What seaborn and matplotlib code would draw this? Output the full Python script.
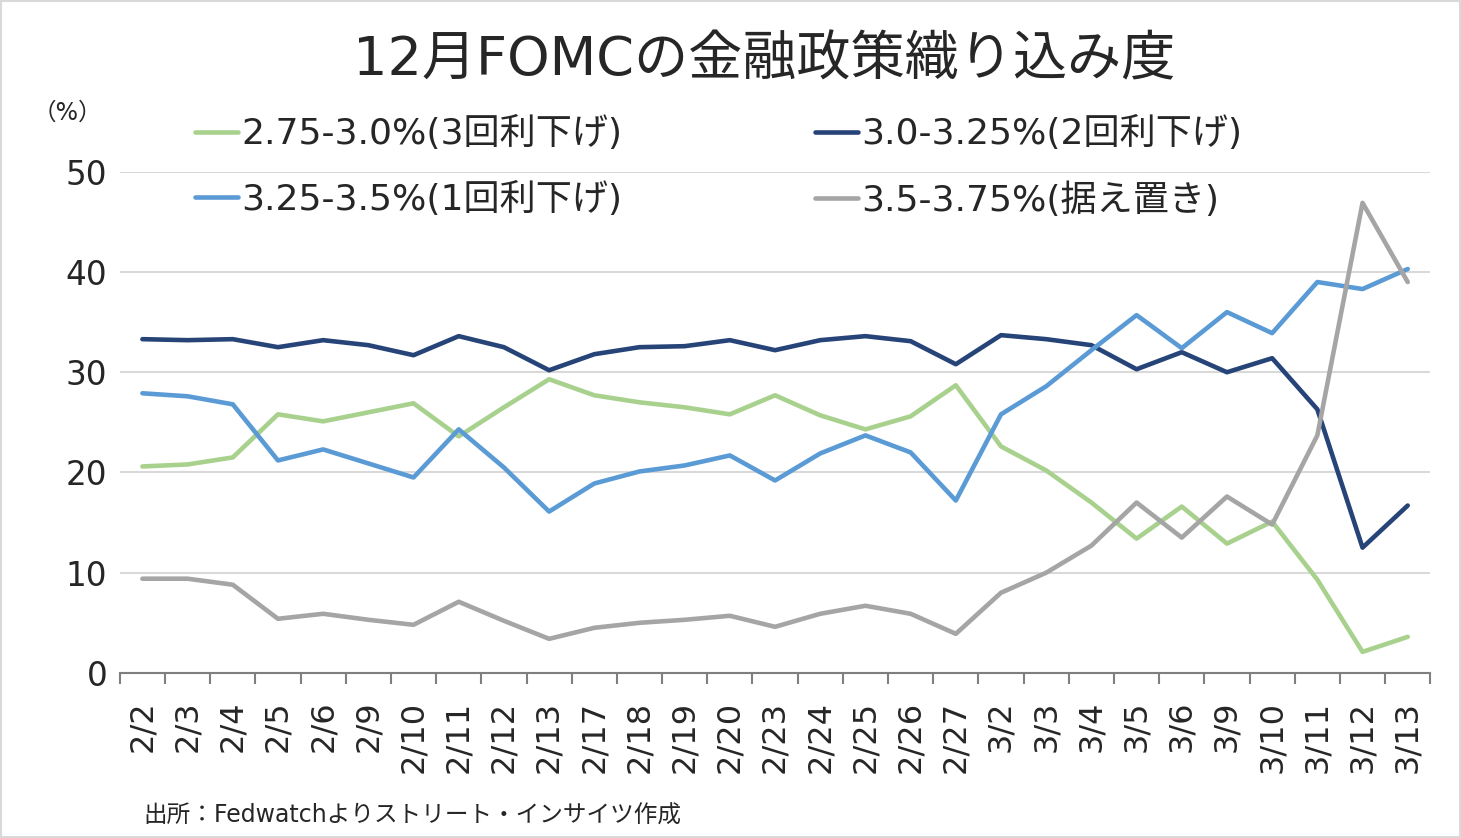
import numpy as np
import pandas as pd
import matplotlib
matplotlib.use("Agg")
import matplotlib.pyplot as plt
import seaborn as sns

dates = ["2/2", "2/3", "2/4", "2/5", "2/6", "2/9", "2/10", "2/11", "2/12", "2/13",
         "2/17", "2/18", "2/19", "2/20", "2/23", "2/24", "2/25", "2/26", "2/27",
         "3/2", "3/3", "3/4", "3/5", "3/6", "3/9", "3/10", "3/11", "3/12", "3/13"]

cut3 = [20.6, 20.8, 21.5, 25.8, 25.1, 26.0, 26.9, 23.6, 26.5, 29.3,
        27.7, 27.0, 26.5, 25.8, 27.7, 25.7, 24.3, 25.6, 28.7,
        22.6, 20.2, 17.0, 13.4, 16.6, 12.9, 15.1, 9.3, 2.1, 3.6]
cut2 = [33.3, 33.2, 33.3, 32.5, 33.2, 32.7, 31.7, 33.6, 32.5, 30.2,
        31.8, 32.5, 32.6, 33.2, 32.2, 33.2, 33.6, 33.1, 30.8,
        33.7, 33.3, 32.7, 30.3, 32.0, 30.0, 31.4, 26.3, 12.5, 16.7]
cut1 = [27.9, 27.6, 26.8, 21.2, 22.3, 20.9, 19.5, 24.3, 20.5, 16.1,
        18.9, 20.1, 20.7, 21.7, 19.2, 21.9, 23.7, 22.0, 17.2,
        25.8, 28.6, 32.2, 35.7, 32.4, 36.0, 33.9, 39.0, 38.3, 40.3]
hold = [9.4, 9.4, 8.8, 5.4, 5.9, 5.3, 4.8, 7.1, 5.2, 3.4,
        4.5, 5.0, 5.3, 5.7, 4.6, 5.9, 6.7, 5.9, 3.9,
        8.0, 10.0, 12.7, 17.0, 13.5, 17.6, 14.8, 23.7, 46.9, 39.0]

names = ["2.75-3.0%(3回利下げ)", "3.0-3.25%(2回利下げ)",
         "3.25-3.5%(1回利下げ)", "3.5-3.75%(据え置き)"]
colors = ["#A9D18E", "#264478", "#5B9BD5", "#A5A5A5"]

pos = np.arange(len(dates))
df = pd.concat([pd.DataFrame({"pos": pos, "val": v, "series": n})
                for n, v in zip(names, [cut3, cut2, cut1, hold])])

sns.set_style("white")
plt.rcParams["font.family"] = ["DejaVu Sans", "Noto Sans CJK JP"]

fig = plt.figure(figsize=(14.61, 8.38), dpi=100)
ax = fig.add_axes([0.082, 0.197, 0.897, 0.598])

sns.lineplot(data=df, x="pos", y="val", hue="series", hue_order=names,
             palette=colors, linewidth=3.3, ax=ax, legend=False)

ax.set_xlim(-0.5, len(dates) - 0.5)
ax.set_ylim(0, 50)
ax.set_yticks([0, 10, 20, 30, 40, 50])
ax.tick_params(axis="y", labelsize=23.5, length=0, pad=9)
ax.set_xticks(pos)
ax.set_xticklabels(dates, rotation=90, fontsize=23)
ax.set_xticks(np.arange(-0.5, len(dates)), minor=True)
ax.tick_params(axis="x", which="major", length=0, pad=20)
ax.tick_params(axis="x", which="minor", length=8, width=1.5, color="#7f7f7f",
               direction="out", bottom=True)
ax.set_xlabel("")
ax.set_ylabel("")
ax.grid(axis="y", color="#d9d9d9", linewidth=1.5)
ax.set_axisbelow(True)
for s in ["left", "right", "top"]:
    ax.spines[s].set_visible(False)
ax.spines["bottom"].set_color("#7f7f7f")
ax.spines["bottom"].set_linewidth(1.5)

# legend: green, light blue in col 1; navy, gray in col 2
handles = [plt.Line2D([], [], color=c, linewidth=3.3) for c in colors]
order = [0, 2, 1, 3]
fig.legend([handles[i] for i in order], [names[i] for i in order],
           ncol=2, loc="upper left", bbox_to_anchor=(0.111, 0.9),
           frameon=False, fontsize=26, handlelength=1.2, handletextpad=0.08,
           columnspacing=5.35, labelspacing=0.85)

fig.text(0.523, 0.928, "12月FOMCの金融政策織り込み度", ha="center", va="center",
         fontsize=39)
fig.text(0.022, 0.865, "（%）", ha="left", va="center", fontsize=17)
fig.text(0.098, 0.027, "出所：Fedwatchよりストリート・インサイツ作成", ha="left",
         va="center", fontsize=17)

border = plt.Rectangle((0.0005, 0.0007), 0.999, 0.998, transform=fig.transFigure,
                       fill=False, edgecolor="#d9d9d9", linewidth=1.5)
fig.patches.append(border)

fig.savefig("out.png", dpi=100)
